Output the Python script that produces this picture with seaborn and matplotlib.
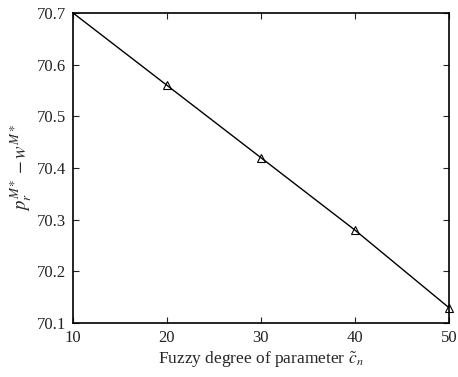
import matplotlib
matplotlib.use("Agg")
import matplotlib.pyplot as plt
import seaborn as sns

# values
fuzzy_degree = [10, 20, 30, 40, 50]
profit_gap = [70.70, 70.56, 70.42, 70.28, 70.13]

sns.set_theme(style="ticks")
plt.rcParams['font.family'] = ['Liberation Serif', 'DejaVu Serif']
plt.rcParams['mathtext.fontset'] = 'stix'

fig = plt.figure(figsize=(4.58, 3.77), dpi=100)
ax = fig.add_axes([0.159, 0.143, 0.821, 0.823])

sns.lineplot(
    x=fuzzy_degree,
    y=profit_gap,
    ax=ax,
    color='black',
    linewidth=1.0,
    marker='^',
    markersize=6,
    markerfacecolor='none',
    markeredgecolor='black',
    markeredgewidth=0.8,
    markevery=[1, 2, 3, 4],
    clip_on=False,
)

ax.set_xlim(10, 50)
ax.set_ylim(70.1, 70.7)
ax.set_xticks([10, 20, 30, 40, 50])
ax.set_yticks([70.1, 70.2, 70.3, 70.4, 70.5, 70.6, 70.7])
ax.set_yticklabels(['70.1', '70.2', '70.3', '70.4', '70.5', '70.6', '70.7'])
ax.tick_params(direction='in', top=True, right=True, length=4, width=0.8,
               labelsize=12, colors='#222222', pad=5)
for s in ax.spines.values():
    s.set_linewidth(1.2)
    s.set_color('black')

ax.set_xlabel(r'Fuzzy degree of parameter $\tilde{c}_n$', fontsize=12.5, labelpad=3)
ax.set_ylabel(r'$p_r^{M*} - w^{M*}$', fontsize=13.5, labelpad=2)

fig.savefig('out.png', dpi=100)
